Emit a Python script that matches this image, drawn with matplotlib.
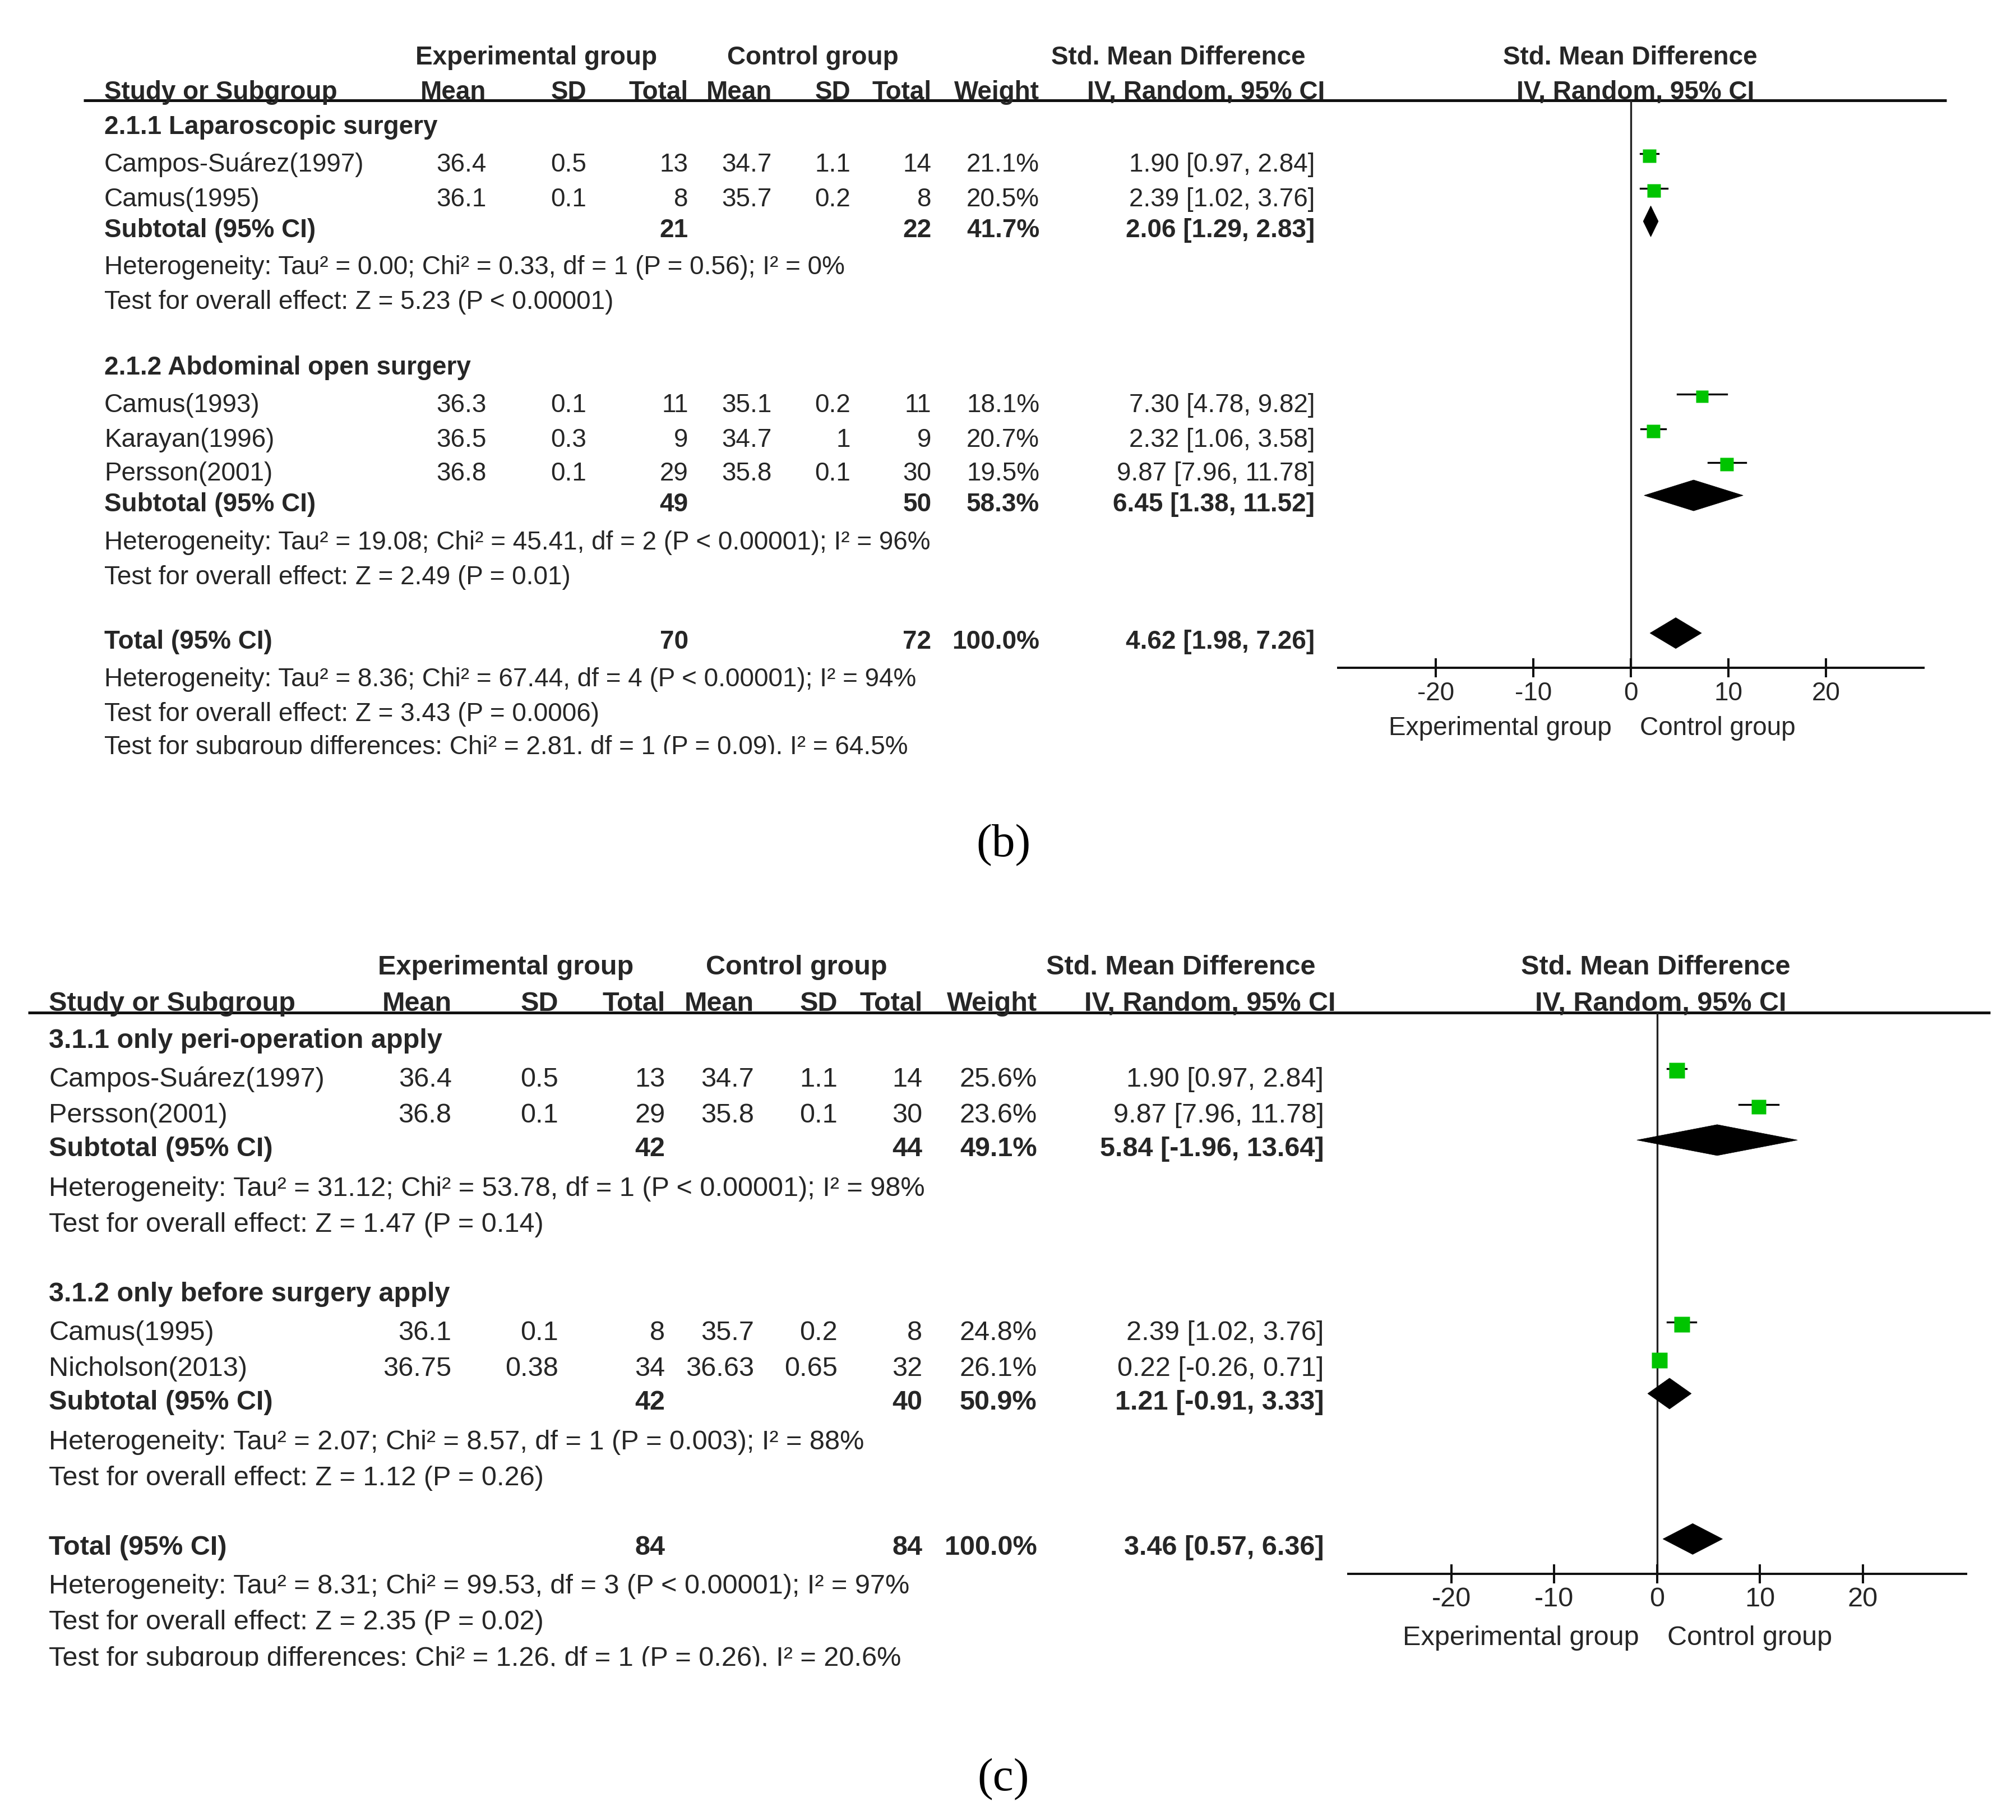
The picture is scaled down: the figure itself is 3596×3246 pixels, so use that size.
import matplotlib
matplotlib.use('Agg')
import matplotlib.pyplot as plt
from matplotlib.patches import Polygon
from matplotlib.transforms import Bbox, TransformedBbox

plt.rcParams['font.family'] = ['Liberation Sans', 'DejaVu Sans']

# ---------------- panel (b) data ----------------
b_study = ['Campos-Suárez(1997)', 'Camus(1995)', 'Camus(1993)', 'Karayan(1996)', 'Persson(2001)']
b_group = [0, 0, 1, 1, 1]
b_e_mean = [36.4, 36.1, 36.3, 36.5, 36.8]
b_e_sd = [0.5, 0.1, 0.1, 0.3, 0.1]
b_e_n = [13, 8, 11, 9, 29]
b_c_mean = [34.7, 35.7, 35.1, 34.7, 35.8]
b_c_sd = [1.1, 0.2, 0.2, 1, 0.1]
b_c_n = [14, 8, 11, 9, 30]
b_weight = [21.1, 20.5, 18.1, 20.7, 19.5]
b_smd = [1.90, 2.39, 7.30, 2.32, 9.87]
b_lo = [0.97, 1.02, 4.78, 1.06, 7.96]
b_hi = [2.84, 3.76, 9.82, 3.58, 11.78]

b_sub_name = ['2.1.1 Laparoscopic surgery', '2.1.2 Abdominal open surgery']
b_sub_e_n = [21, 49]
b_sub_c_n = [22, 50]
b_sub_weight = [41.7, 58.3]
b_sub_smd = [2.06, 6.45]
b_sub_lo = [1.29, 1.38]
b_sub_hi = [2.83, 11.52]
b_sub_het = ['Heterogeneity: Tau² = 0.00; Chi² = 0.33, df = 1 (P = 0.56); I² = 0%',
             'Heterogeneity: Tau² = 19.08; Chi² = 45.41, df = 2 (P < 0.00001); I² = 96%']
b_sub_z = ['Test for overall effect: Z = 5.23 (P < 0.00001)',
           'Test for overall effect: Z = 2.49 (P = 0.01)']

b_tot_n = [70, 72]
b_tot_ci = [4.62, 1.98, 7.26]
b_tot_notes = ['Heterogeneity: Tau² = 8.36; Chi² = 67.44, df = 4 (P < 0.00001); I² = 94%',
               'Test for overall effect: Z = 3.43 (P = 0.0006)',
               'Test for subgroup differences: Chi² = 2.81, df = 1 (P = 0.09), I² = 64.5%']

# ---------------- panel (c) data ----------------
c_study = ['Campos-Suárez(1997)', 'Persson(2001)', 'Camus(1995)', 'Nicholson(2013)']
c_group = [0, 0, 1, 1]
c_e_mean = [36.4, 36.8, 36.1, 36.75]
c_e_sd = [0.5, 0.1, 0.1, 0.38]
c_e_n = [13, 29, 8, 34]
c_c_mean = [34.7, 35.8, 35.7, 36.63]
c_c_sd = [1.1, 0.1, 0.2, 0.65]
c_c_n = [14, 30, 8, 32]
c_weight = [25.6, 23.6, 24.8, 26.1]
c_smd = [1.90, 9.87, 2.39, 0.22]
c_lo = [0.97, 7.96, 1.02, -0.26]
c_hi = [2.84, 11.78, 3.76, 0.71]

c_sub_name = ['3.1.1 only peri-operation apply', '3.1.2 only before surgery apply']
c_sub_e_n = [42, 42]
c_sub_c_n = [44, 40]
c_sub_weight = [49.1, 50.9]
c_sub_smd = [5.84, 1.21]
c_sub_lo = [-1.96, -0.91]
c_sub_hi = [13.64, 3.33]
c_sub_het = ['Heterogeneity: Tau² = 31.12; Chi² = 53.78, df = 1 (P < 0.00001); I² = 98%',
             'Heterogeneity: Tau² = 2.07; Chi² = 8.57, df = 1 (P = 0.003); I² = 88%']
c_sub_z = ['Test for overall effect: Z = 1.47 (P = 0.14)',
           'Test for overall effect: Z = 1.12 (P = 0.26)']

c_tot_n = [84, 84]
c_tot_ci = [3.46, 0.57, 6.36]
c_tot_notes = ['Heterogeneity: Tau² = 8.31; Chi² = 99.53, df = 3 (P < 0.00001); I² = 97%',
               'Test for overall effect: Z = 2.35 (P = 0.02)',
               'Test for subgroup differences: Chi² = 1.26, df = 1 (P = 0.26), I² = 20.6%']

x_ticks = [-20, -10, 0, 10, 20]
x_labels = ['Experimental group', 'Control group']

# ---------------- layout (canvas units) ----------------
W, H = 1567.0, 1414.4
TXT = '#262626'
GREEN = '#00c400'
TEXT_DY = 2      # table text nudge
MARK_DY = -5     # marks sit a little above the text centre
WHISK_DY = -1.5  # whiskers a touch above the square centre

lay_b = dict(fs=33, name_x=81, cols=[378, 456, 535, 600, 661, 724, 808, 1022], ci_head_x=1030,
             h1_y=43, h2_y=70, h1_x=[417, 632, 916, 1267], h2_right_x=1271,
             rule=(65, 1513, 78), box=(1040, 1495, 78, 519), lab_x=[1166, 1335], lab_y=564,
             sub_y=[97, 284], study_y=[126, 153, 313, 340, 366], subtot_y=[177, 390],
             het_y=[206, 420], z_y=[233, 447], tot_y=497, notes_y=[526, 553, 579],
             clip=586, sq=5.3, letter='(b)', letter_y=657)

lay_c = dict(fs=35, name_x=38, cols=[351, 434, 517, 586, 651, 717, 806, 1029], ci_head_x=1038,
             h1_y=750, h2_y=778, h1_x=[393, 619, 918, 1287], h2_right_x=1291,
             rule=(22, 1547, 787), box=(1048, 1528, 787, 1223), lab_x=[1182, 1360], lab_y=1271,
             sub_y=[807, 1004], study_y=[837, 865, 1034, 1062], subtot_y=[891, 1088],
             het_y=[922, 1119], z_y=[950, 1147], tot_y=1201, notes_y=[1231, 1259, 1287],
             clip=1295, sq=5.5, letter='(c)', letter_y=1383)


def ci_text(m, lo, hi):
    return '%.2f [%.2f, %.2f]' % (m, lo, hi)


def draw_panel(canvas, L, d):
    fs = L['fs']
    cols = L['cols']

    def t(x, y, s, ha='left', bold=False, clip=False):
        txt = canvas.text(x, y + TEXT_DY, s, ha=ha, va='center', fontsize=fs, color=TXT,
                          fontweight='bold' if bold else 'normal')
        if clip:
            txt.set_clip_box(TransformedBbox(Bbox([[0, 0], [W, L['clip']]]), canvas.transData))
            txt.set_clip_on(True)
        return txt

    # headers
    for s, x in zip(['Experimental group', 'Control group', 'Std. Mean Difference',
                     'Std. Mean Difference'], L['h1_x']):
        t(x, L['h1_y'], s, ha='center', bold=True)
    t(L['name_x'], L['h2_y'], 'Study or Subgroup', bold=True)
    for s, x in zip(['Mean', 'SD', 'Total', 'Mean', 'SD', 'Total', 'Weight'], cols[:7]):
        t(x, L['h2_y'], s, ha='right', bold=True)
    t(L['ci_head_x'], L['h2_y'], 'IV, Random, 95% CI', ha='right', bold=True)
    t(L['h2_right_x'], L['h2_y'], 'IV, Random, 95% CI', ha='center', bold=True)
    x0, x1, yr = L['rule']
    canvas.plot([x0, x1], [yr, yr], color='#111111', lw=3.6, solid_capstyle='butt')

    # forest axes
    bx0, bx1, by0, by1 = L['box']
    fa = canvas.figure.add_axes([bx0 / W, 1 - by1 / H, (bx1 - bx0) / W, (by1 - by0) / H])
    fa.patch.set_alpha(0)
    fa.set_xlim(-30, 30)
    fa.set_ylim(by1, by0)
    for sp in ['top', 'left', 'right']:
        fa.spines[sp].set_visible(False)
    fa.spines['bottom'].set_linewidth(2.9)
    fa.spines['bottom'].set_color('#111111')
    fa.yaxis.set_visible(False)
    fa.set_xticks(x_ticks)
    fa.set_xticklabels([str(v) for v in x_ticks])
    fa.tick_params(axis='x', direction='inout', length=24, width=2.9, color='#111111',
                   labelsize=fs, labelcolor=TXT, pad=5)
    fa.axvline(0, color='#222222', lw=2.4, zorder=1)
    for s, x in zip(x_labels, L['lab_x']):
        t(x, L['lab_y'], s, ha='center')

    def diamond(m, lo, hi, y):
        h = 12
        y = y + MARK_DY
        fa.add_patch(Polygon([[lo, y], [m, y - h], [hi, y], [m, y + h]], closed=True,
                             facecolor='black', edgecolor='black', lw=0.5, zorder=3))

    k = 0
    for g in range(2):
        t(L['name_x'], L['sub_y'][g], d['sub_name'][g], bold=True)
        for i in range(len(d['study'])):
            if d['group'][i] != g:
                continue
            y = L['study_y'][k]
            k += 1
            t(L['name_x'], y, d['study'][i])
            vals = ['%g' % d['e_mean'][i], '%g' % d['e_sd'][i], str(d['e_n'][i]),
                    '%g' % d['c_mean'][i], '%g' % d['c_sd'][i], str(d['c_n'][i]),
                    '%.1f%%' % d['weight'][i], ci_text(d['smd'][i], d['lo'][i], d['hi'][i])]
            for v, x in zip(vals, cols):
                t(x, y, v, ha='right')
            ym = y + MARK_DY
            fa.plot([d['lo'][i], d['hi'][i]], [ym + WHISK_DY, ym + WHISK_DY], color='black',
                    lw=2.4, zorder=2)
            fa.plot(d['smd'][i], ym, marker='s', ms=L['sq'] * d['weight'][i] ** 0.5 * 0.72,
                    color=GREEN, mec='none', zorder=4)
        y = L['subtot_y'][g]
        t(L['name_x'], y, 'Subtotal (95% CI)', bold=True)
        t(cols[2], y, str(d['sub_e_n'][g]), ha='right', bold=True)
        t(cols[5], y, str(d['sub_c_n'][g]), ha='right', bold=True)
        t(cols[6], y, '%.1f%%' % d['sub_weight'][g], ha='right', bold=True)
        t(cols[7], y, ci_text(d['sub_smd'][g], d['sub_lo'][g], d['sub_hi'][g]), ha='right', bold=True)
        diamond(d['sub_smd'][g], d['sub_lo'][g], d['sub_hi'][g], y)
        t(L['name_x'], L['het_y'][g], d['sub_het'][g])
        t(L['name_x'], L['z_y'][g], d['sub_z'][g])

    y = L['tot_y']
    t(L['name_x'], y, 'Total (95% CI)', bold=True)
    t(cols[2], y, str(d['tot_n'][0]), ha='right', bold=True)
    t(cols[5], y, str(d['tot_n'][1]), ha='right', bold=True)
    t(cols[6], y, '100.0%', ha='right', bold=True)
    t(cols[7], y, ci_text(*d['tot_ci']), ha='right', bold=True)
    diamond(d['tot_ci'][0], d['tot_ci'][1], d['tot_ci'][2], y)
    for j, s in enumerate(d['tot_notes']):
        t(L['name_x'], L['notes_y'][j], s, clip=(j == 2))

    canvas.text(780, L['letter_y'], L['letter'], ha='center', va='center', fontsize=60,
                color='black', family=['Liberation Serif', 'DejaVu Serif'])


fig = plt.figure(figsize=(35.96, 32.46), dpi=100)
canvas = fig.add_axes([0, 0, 1, 1])
canvas.set_xlim(0, W)
canvas.set_ylim(H, 0)
canvas.axis('off')

data_b = dict(study=b_study, group=b_group, e_mean=b_e_mean, e_sd=b_e_sd, e_n=b_e_n,
              c_mean=b_c_mean, c_sd=b_c_sd, c_n=b_c_n, weight=b_weight, smd=b_smd,
              lo=b_lo, hi=b_hi, sub_name=b_sub_name, sub_e_n=b_sub_e_n, sub_c_n=b_sub_c_n,
              sub_weight=b_sub_weight, sub_smd=b_sub_smd, sub_lo=b_sub_lo, sub_hi=b_sub_hi,
              sub_het=b_sub_het, sub_z=b_sub_z, tot_n=b_tot_n, tot_ci=b_tot_ci,
              tot_notes=b_tot_notes)
data_c = dict(study=c_study, group=c_group, e_mean=c_e_mean, e_sd=c_e_sd, e_n=c_e_n,
              c_mean=c_c_mean, c_sd=c_c_sd, c_n=c_c_n, weight=c_weight, smd=c_smd,
              lo=c_lo, hi=c_hi, sub_name=c_sub_name, sub_e_n=c_sub_e_n, sub_c_n=c_sub_c_n,
              sub_weight=c_sub_weight, sub_smd=c_sub_smd, sub_lo=c_sub_lo, sub_hi=c_sub_hi,
              sub_het=c_sub_het, sub_z=c_sub_z, tot_n=c_tot_n, tot_ci=c_tot_ci,
              tot_notes=c_tot_notes)

draw_panel(canvas, lay_b, data_b)
draw_panel(canvas, lay_c, data_c)

fig.savefig('out.png', dpi=100)
